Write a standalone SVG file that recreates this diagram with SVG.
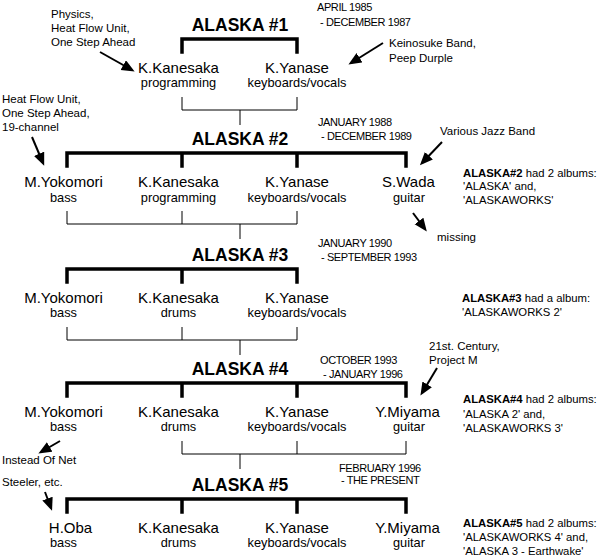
<svg xmlns="http://www.w3.org/2000/svg" width="599" height="556" viewBox="0 0 599 556">
<style>
text{font-family:"Liberation Sans",Arial,sans-serif;fill:#000}
.title{font-size:17.5px;font-weight:bold;text-anchor:middle}
.name{font-size:15px;text-anchor:middle}
.role{font-size:12.8px;text-anchor:middle}
.date{font-size:11px;letter-spacing:-0.4px}
.note{font-size:11.5px}
.album{font-size:11.3px}
.thick{stroke:#000;stroke-width:3.5;fill:none;stroke-linecap:square}
.thin{stroke:#000;stroke-width:1;fill:none}
.arr{stroke:#000;stroke-width:2;fill:none;marker-end:url(#ah)}
</style>
<defs>
<marker id="ah" markerUnits="userSpaceOnUse" markerWidth="14" markerHeight="12" refX="10" refY="5.5" orient="auto">
<path d="M0,0 L13,5.5 L0,11 z" fill="#000"/>
</marker>
</defs>
<rect width="599" height="556" fill="#fff"/>

<g id="connectors">
<path class="thick" d="M182,52 V39 H297 V52"/>
<path class="thin" d="M182,97 V110 H297 V97 M240,110 V125"/>
<path class="thick" d="M67,166 V153 H406 V166 M182,153 V166 M297,153 V166"/>
<path class="thin" d="M67,211 V224 H297 V211 M182,211 V224 M240,224 V239"/>
<path class="thick" d="M67,282 V269 H297 V282 M182,269 V282"/>
<path class="thin" d="M67,327 V340 H297 V327 M182,327 V340 M240,340 V355"/>
<path class="thick" d="M67,396 V383 H406 V396 M182,383 V396 M297,383 V396"/>
<path class="thin" d="M182,441 V454 H406 V441 M297,441 V454 M240,454 V469"/>
<path class="thick" d="M67,512 V499 H406 V512 M182,499 V512 M297,499 V512"/>
<line class="arr" x1="100" y1="52" x2="132" y2="70"/>
<line class="arr" x1="383" y1="43" x2="351" y2="63"/>
<line class="arr" x1="32" y1="137" x2="43" y2="163"/>
<line class="arr" x1="442" y1="142" x2="422" y2="163"/>
<line class="arr" x1="413" y1="213" x2="425" y2="229"/>
<line class="arr" x1="437" y1="368" x2="422" y2="393"/>
<line class="arr" x1="60" y1="441" x2="41" y2="452"/>
<line class="arr" x1="45" y1="492" x2="51" y2="508"/>
</g>

<g id="alaska1">
<text class="title" x="240" y="31">ALASKA #1</text>
<text class="date" x="317" y="11">APRIL 1985</text>
<text class="date" x="320" y="26">- DECEMBER 1987</text>
</g>
<g id="a1-kanesaka"><text class="name" x="178.5" y="72.5">K.Kanesaka</text><text class="role" x="178.5" y="87">programming</text></g>
<g id="a1-yanase"><text class="name" x="297" y="72.5">K.Yanase</text><text class="role" x="297" y="87">keyboards/vocals</text></g>
<g id="note-physics"><text class="note" x="51" y="18">Physics,</text><text class="note" x="51" y="32">Heat Flow Unit,</text><text class="note" x="51" y="46">One Step Ahead</text></g>
<g id="note-keinosuke"><text class="note" x="389" y="47">Keinosuke Band,</text><text class="note" x="389" y="62">Peep Durple</text></g>

<g id="alaska2">
<text class="title" x="240" y="145">ALASKA #2</text>
<text class="date" x="318" y="126">JANUARY 1988</text>
<text class="date" x="321" y="140">- DECEMBER 1989</text>
</g>
<g id="a2-yokomori"><text class="name" x="63.5" y="187">M.Yokomori</text><text class="role" x="63.5" y="202">bass</text></g>
<g id="a2-kanesaka"><text class="name" x="178.5" y="187">K.Kanesaka</text><text class="role" x="178.5" y="202">programming</text></g>
<g id="a2-yanase"><text class="name" x="297" y="187">K.Yanase</text><text class="role" x="297" y="202">keyboards/vocals</text></g>
<g id="a2-wada"><text class="name" x="408.5" y="187">S.Wada</text><text class="role" x="409" y="202">guitar</text></g>
<g id="note-heatflow"><text class="note" x="2" y="103">Heat Flow Unit,</text><text class="note" x="2" y="117">One Step Ahead,</text><text class="note" x="2" y="131">19-channel</text></g>
<g id="note-jazz"><text class="note" x="440" y="135">Various Jazz Band</text></g>
<g id="note-missing"><text class="note" x="437" y="241">missing</text></g>
<g id="albums2"><text class="album" x="463" y="177"><tspan font-weight="bold">ALASKA#2</tspan> had 2 albums:</text><text class="album" x="463" y="190">'ALASKA' and,</text><text class="album" x="463" y="204">'ALASKAWORKS'</text></g>

<g id="alaska3">
<text class="title" x="240" y="261">ALASKA #3</text>
<text class="date" x="318" y="247">JANUARY 1990</text>
<text class="date" x="321" y="261">- SEPTEMBER 1993</text>
</g>
<g id="a3-yokomori"><text class="name" x="63.5" y="302.5">M.Yokomori</text><text class="role" x="63.5" y="317">bass</text></g>
<g id="a3-kanesaka"><text class="name" x="178.5" y="302.5">K.Kanesaka</text><text class="role" x="178.5" y="317">drums</text></g>
<g id="a3-yanase"><text class="name" x="297" y="302.5">K.Yanase</text><text class="role" x="297" y="317">keyboards/vocals</text></g>
<g id="albums3"><text class="album" x="462" y="302"><tspan font-weight="bold">ALASKA#3</tspan> had a album:</text><text class="album" x="462" y="316">'ALASKAWORKS 2'</text></g>

<g id="alaska4">
<text class="title" x="240" y="375">ALASKA #4</text>
<text class="date" x="320" y="364">OCTOBER 1993</text>
<text class="date" x="323" y="378">- JANUARY 1996</text>
</g>
<g id="a4-yokomori"><text class="name" x="63.5" y="416.5">M.Yokomori</text><text class="role" x="63.5" y="431">bass</text></g>
<g id="a4-kanesaka"><text class="name" x="178.5" y="416.5">K.Kanesaka</text><text class="role" x="178.5" y="431">drums</text></g>
<g id="a4-yanase"><text class="name" x="297" y="416.5">K.Yanase</text><text class="role" x="297" y="431">keyboards/vocals</text></g>
<g id="a4-miyama"><text class="name" x="407.5" y="416.5">Y.Miyama</text><text class="role" x="409" y="431">guitar</text></g>
<g id="note-21st"><text class="note" x="429" y="350">21st. Century,</text><text class="note" x="429" y="364">Project M</text></g>
<g id="note-instead"><text class="note" x="2" y="464">Instead Of Net</text></g>
<g id="albums4"><text class="album" x="463" y="403"><tspan font-weight="bold">ALASKA#4</tspan> had 2 albums:</text><text class="album" x="463" y="418">'ALASKA 2' and,</text><text class="album" x="463" y="432">'ALASKAWORKS 3'</text></g>

<g id="alaska5">
<text class="title" x="240" y="491">ALASKA #5</text>
<text class="date" x="339" y="472" letter-spacing="-0.8">FEBRUARY 1996</text>
<text class="date" x="341" y="484" letter-spacing="-0.8">- THE PRESENT</text>
</g>
<g id="a5-oba"><text class="name" x="70.5" y="532.5">H.Oba</text><text class="role" x="63.5" y="547">bass</text></g>
<g id="a5-kanesaka"><text class="name" x="178.5" y="532.5">K.Kanesaka</text><text class="role" x="178.5" y="547">drums</text></g>
<g id="a5-yanase"><text class="name" x="297" y="532.5">K.Yanase</text><text class="role" x="297" y="547">keyboards/vocals</text></g>
<g id="a5-miyama"><text class="name" x="407.5" y="532.5">Y.Miyama</text><text class="role" x="409" y="547">guitar</text></g>
<g id="note-steeler"><text class="note" x="2" y="486">Steeler, etc.</text></g>
<g id="albums5"><text class="album" x="463" y="527"><tspan font-weight="bold">ALASKA#5</tspan> had 2 albums:</text><text class="album" x="463" y="541">'ALASKAWORKS 4' and,</text><text class="album" x="463" y="555">'ALASKA 3 - Earthwake'</text></g>
</svg>
